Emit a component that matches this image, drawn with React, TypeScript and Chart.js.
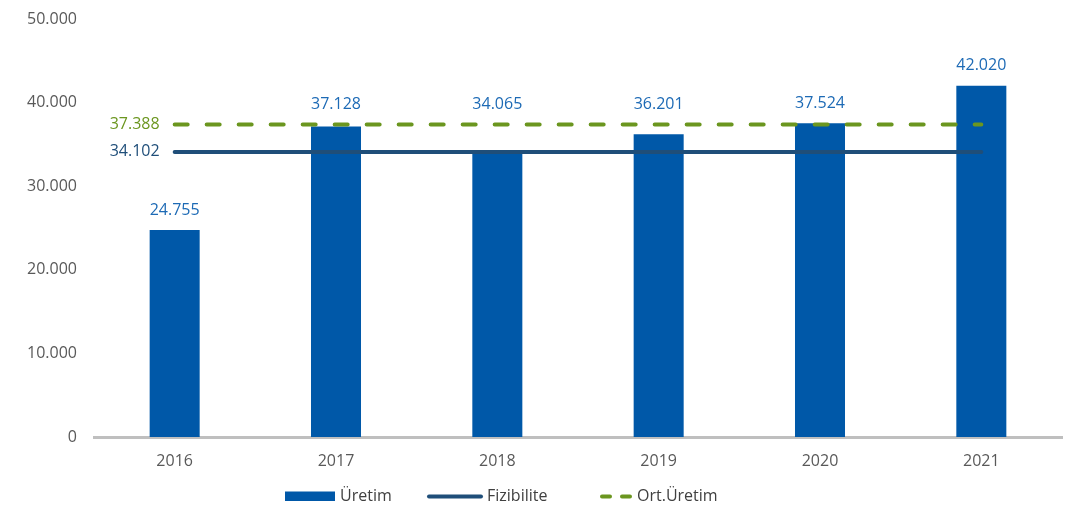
import React, { useEffect, useRef } from "react";
import { Chart, registerables } from "chart.js";

Chart.register(...registerables);

const years = ["2016", "2017", "2018", "2019", "2020", "2021"];
const uretim = [24755, 37128, 34065, 36201, 37524, 42020];
const fizibilite = [34102, 34102, 34102, 34102, 34102, 34102];
const ortUretim = [37388, 37388, 37388, 37388, 37388, 37388];
const seriesNames = ["Üretim", "Fizibilite", "Ort.Üretim"];

const BAR_COLOR = "#0058a8";
const LABEL_BLUE = "#1d6ab5";
const LINE_BLUE = "#1f4e79";
const GREEN = "#6b961f";
const TICK_GRAY = "#595959";
const FONT = "'Open Sans', 'Noto Sans', sans-serif";
const FS = 16;

const fmt = (v: number) =>
  String(Math.round(v)).replace(/\B(?=(\d{3})+(?!\d))/g, ".");

const labelPlugin = {
  id: "customLabels",
  afterDatasetsDraw(chart: any) {
    const ctx = chart.ctx;
    ctx.save();
    ctx.font = `${FS}px ${FONT}`;
    const barMeta = chart.getDatasetMeta(0);
    const m1 = chart.getDatasetMeta(1);
    const m2 = chart.getDatasetMeta(2);
    ctx.fillStyle = LABEL_BLUE;
    ctx.textAlign = "center";
    ctx.textBaseline = "middle";
    barMeta.data.forEach((el: any, i: number) => {
      const lineTop = Math.min(m1.data[i].y, m2.data[i].y);
      const top = el.y < lineTop - 12 || el.y > m1.data[i].y + 12 ? el.y : Math.min(el.y, lineTop);
      ctx.fillText(fmt(uretim[i]), el.x, top - 20);
    });
    ctx.textAlign = "right";
    ctx.fillStyle = LINE_BLUE;
    ctx.fillText(fmt(fizibilite[0]), m1.data[0].x - 15, m1.data[0].y);
    ctx.fillStyle = GREEN;
    ctx.fillText(fmt(ortUretim[0]), m2.data[0].x - 15, m2.data[0].y);
    ctx.restore();
  },
  afterDraw(chart: any) {
    const ctx = chart.ctx;
    ctx.save();
    const ly = 496.5;
    ctx.font = `${FS}px ${FONT}`;
    ctx.textBaseline = "middle";
    ctx.textAlign = "left";
    ctx.fillStyle = BAR_COLOR;
    ctx.fillRect(285, 491.5, 50, 9.5);
    ctx.fillStyle = "#404040";
    ctx.fillText(seriesNames[0], 340, ly);
    ctx.strokeStyle = LINE_BLUE;
    ctx.lineWidth = 4;
    ctx.lineCap = "round";
    ctx.beginPath();
    ctx.moveTo(429, ly);
    ctx.lineTo(481, ly);
    ctx.stroke();
    ctx.fillText(seriesNames[1], 487, ly);
    ctx.strokeStyle = GREEN;
    ctx.beginPath();
    ctx.moveTo(602, ly);
    ctx.lineTo(610, ly);
    ctx.moveTo(622, ly);
    ctx.lineTo(630, ly);
    ctx.stroke();
    ctx.fillText(seriesNames[2], 637, ly);
    ctx.restore();
  },
};

export default function App() {
  const canvasRef = useRef<HTMLCanvasElement>(null);

  useEffect(() => {
    document.body.style.margin = "0";
    const chart = new Chart(canvasRef.current as HTMLCanvasElement, {
      type: "bar",
      data: {
        labels: years,
        datasets: [
          {
            type: "bar",
            label: seriesNames[0],
            data: uretim,
            backgroundColor: BAR_COLOR,
            barPercentage: 0.31,
            categoryPercentage: 1,
            order: 3,
          } as any,
          {
            type: "line",
            label: seriesNames[1],
            data: fizibilite,
            borderColor: LINE_BLUE,
            borderWidth: 4,
            borderCapStyle: "round",
            pointRadius: 0,
            fill: false,
            order: 2,
          } as any,
          {
            type: "line",
            label: seriesNames[2],
            data: ortUretim,
            borderColor: GREEN,
            borderWidth: 4,
            borderCapStyle: "round",
            borderDash: [13, 19],
            pointRadius: 0,
            fill: false,
            order: 1,
          } as any,
        ],
      },
      options: {
        animation: false,
        responsive: true,
        maintainAspectRatio: false,
        layout: { padding: { top: 19, right: 9, left: 0, bottom: 0 } },
        plugins: {
          legend: { display: false },
          tooltip: { enabled: false },
        },
        scales: {
          x: {
            grid: { display: false, drawTicks: false },
            border: { display: true, color: "#bfbfbf", width: 3 },
            ticks: {
              color: TICK_GRAY,
              font: { family: FONT, size: FS },
              padding: 15,
            },
            afterFit: (scale: any) => {
              scale.height = 70;
              scale.paddingLeft = 0;
              scale.paddingRight = 0;
            },
          },
          y: {
            min: 0,
            max: 50000,
            grid: { display: false, drawTicks: false },
            border: { display: false },
            ticks: {
              stepSize: 10000,
              color: TICK_GRAY,
              font: { family: FONT, size: FS },
              padding: 17,
              callback: (v: any) => fmt(Number(v)),
            },
            afterFit: (scale: any) => {
              scale.width = 94;
              scale.paddingTop = 0;
              scale.paddingBottom = 0;
            },
          },
        },
      },
      plugins: [labelPlugin],
    });
    return () => chart.destroy();
  }, []);

  return (
    <div style={{ position: "absolute", left: 0, top: 0, width: 1071, height: 507 }}>
      <canvas ref={canvasRef} />
    </div>
  );
}
